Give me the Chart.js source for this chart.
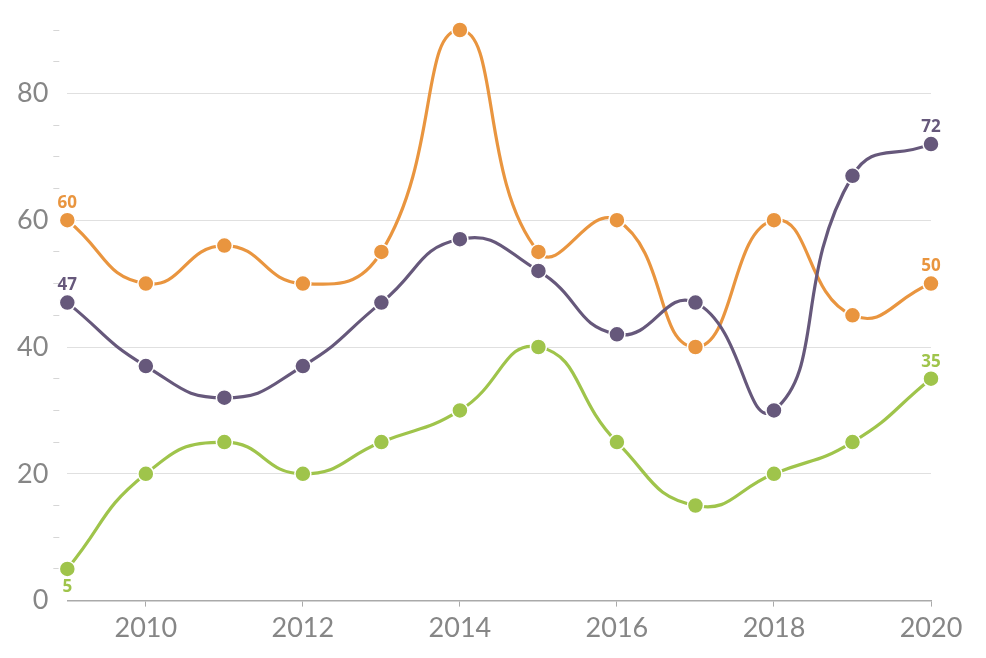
<!DOCTYPE html>
<html>
<head>
<meta charset="utf-8">
<script src="https://cdn.jsdelivr.net/npm/chart.js@4/dist/chart.umd.min.js"></script>
<style>
  html, body { margin: 0; padding: 0; background: #fff; }
  #wrap { width: 986px; height: 658px; }
</style>
</head>
<body>
<div id="wrap"><canvas id="lineChart"></canvas></div>
<script>
// --------------------------- DATA ------------------------
const years = [2009, 2010, 2011, 2012, 2013, 2014, 2015, 2016, 2017, 2018, 2019, 2020];
const orangeValues = [60, 50, 56, 50, 55, 90, 55, 60, 40, 60, 45, 50];
const purpleValues = [47, 37, 32, 37, 47, 57, 52, 42, 47, 30, 67, 72];
const greenValues = [5, 20, 25, 20, 25, 30, 40, 25, 15, 20, 25, 35];
const xTickYears = [2010, 2012, 2014, 2016, 2018, 2020];

const ORANGE = '#e9953f';
const PURPLE = '#66587b';
const GREEN = '#9fc44b';
const AXIS_FONT = "'Lato', 'Open Sans', sans-serif";

function toPoints(values) {
      return values.map((v, i) => ({ x: years[i], y: v }));
}

function makeSeries(values, color, below) {
      return {
            data: toPoints(values),
            borderColor: color,
            backgroundColor: color,
            borderWidth: 3.2,
            tension: 0.5,
            fill: false,
            clip: false,
            pointRadius: 8,
            pointHoverRadius: 8,
            pointBorderColor: '#fff',
            pointBorderWidth: 1.5,
            labelBelowFirst: below
      };
}

// draws the value on the first and last point of every series
const endLabels = {
      id: 'endLabels',
      afterDatasetsDraw(chart) {
            const ctx = chart.ctx;
            ctx.save();
            ctx.font = "bold 17px 'Open Sans', sans-serif";
            ctx.textAlign = 'center';
            ctx.textBaseline = 'middle';
            chart.data.datasets.forEach((ds, i) => {
                  const meta = chart.getDatasetMeta(i);
                  ctx.fillStyle = ds.borderColor;
                  [0, meta.data.length - 1].forEach(idx => {
                        const pt = meta.data[idx];
                        const dy = (idx === 0 && ds.labelBelowFirst) ? 18 : -17;
                        ctx.fillText(ds.data[idx].y, pt.x, pt.y + dy);
                  });
            });
            ctx.restore();
      }
};

const ctx = document.getElementById('lineChart').getContext('2d');
new Chart(ctx, {
      type: 'line',
      data: {
            datasets: [
                  makeSeries(greenValues, GREEN, true),
                  makeSeries(purpleValues, PURPLE, false),
                  makeSeries(orangeValues, ORANGE, false)
            ]
      },
      options: {
            responsive: true,
            maintainAspectRatio: false,
            animation: false,
            layout: { padding: { top: 30, right: 55, bottom: 9, left: 12 } },
            scales: {
                  x: {
                        type: 'linear',
                        min: 2009,
                        max: 2020,
                        afterBuildTicks: (scale) => {
                              scale.ticks = xTickYears.map(v => ({ value: v }));
                        },
                        ticks: {
                              autoSkip: false,
                              maxRotation: 0,
                              padding: 5,
                              color: '#868686',
                              font: { family: AXIS_FONT, size: 27, weight: '400' },
                              callback: (v) => String(v)
                        },
                        grid: {
                              drawOnChartArea: false,
                              tickLength: 6,
                              color: '#aaa'
                        },
                        border: { display: true, color: '#aaa', width: 1.5 }
                  },
                  y: {
                        min: 0,
                        max: 90,
                        afterBuildTicks: (scale) => {
                              const t = [];
                              for (let v = 0; v <= 90; v += 5) t.push({ value: v });
                              scale.ticks = t;
                        },
                        ticks: {
                              autoSkip: false,
                              padding: 5,
                              color: '#868686',
                              font: { family: AXIS_FONT, size: 27, weight: '400' },
                              callback: (v) => (v % 20 === 0 ? String(v) : '')
                        },
                        grid: {
                              tickLength: 14,
                              tickBorderDash: [6, 40],
                              color: (c) => (c.tick && c.tick.value % 20 === 0 && c.tick.value !== 0 ? '#e0e0e0' : 'rgba(0,0,0,0)'),
                              tickColor: (c) => (c.tick && c.tick.value % 20 !== 0 ? '#d6d6d6' : 'rgba(0,0,0,0)')
                        },
                        border: { display: false }
                  }
            },
            plugins: {
                  legend: { display: false },
                  tooltip: { enabled: false }
            }
      },
      plugins: [endLabels]
});
</script>
</body>
</html>
